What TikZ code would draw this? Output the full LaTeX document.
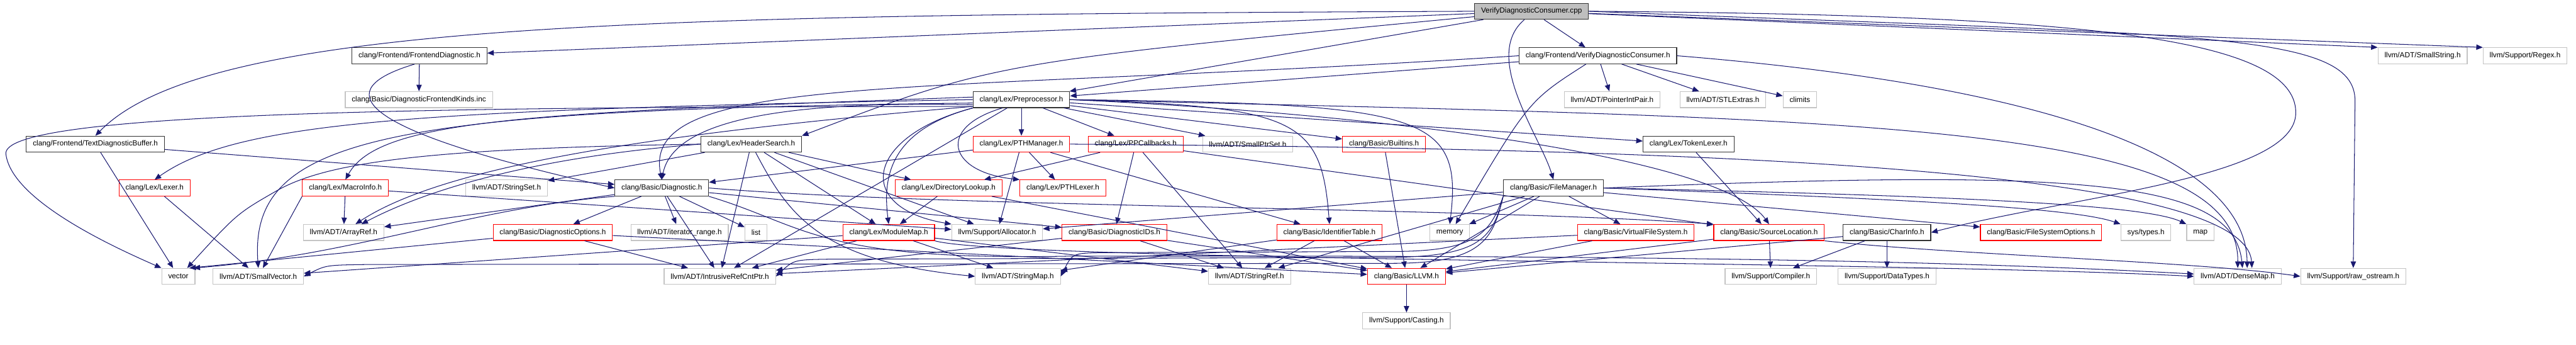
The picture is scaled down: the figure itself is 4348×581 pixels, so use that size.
\documentclass[tikz,border=0pt]{standalone}
\usepackage{fontspec}
\setmainfont{Liberation Sans}
\usetikzlibrary{arrows.meta}
\definecolor{edgeblue}{RGB}{25,25,112}
\definecolor{leafgray}{RGB}{196,196,196}
\definecolor{rootfill}{RGB}{191,191,191}
\definecolor{cutred}{RGB}{255,0,0}
\newcommand{\hdrfont}{\fontsize{12.5}{14}\selectfont}
\tikzset{
  >={Triangle[length=11pt,width=9pt]},
  incl/.style={draw=#1,fill=white,line width=1.2pt,minimum height=27pt,
    inner xsep=11pt,inner ysep=0pt,font=\hdrfont},
  incl/.default=black!80,
  trunc/.style={incl=cutred},
  ext/.style={incl=leafgray},
  rootfile/.style={incl=black!80,fill=rootfill},
  dep/.style={->,draw=edgeblue,line width=1.1pt},
}
\begin{document}
\begin{tikzpicture}[x=1pt,y=-1pt]
  \path[use as bounding box] (0,0) rectangle (4348,581);
  % row 0 and 1
  \node[rootfile] (root) at (2585,19) {VerifyDiagnosticConsumer.cpp};
  \node[incl] (fediag) at (708,94) {clang/Frontend/FrontendDiagnostic.h};
  \node[incl] (vdch) at (2697,94) {clang/Frontend/VerifyDiagnosticConsumer.h};
  \node[ext] (smallstr) at (4089,94) {llvm/ADT/SmallString.h};
  \node[ext] (regex) at (4262,94) {llvm/Support/Regex.h};
  % row 2
  \node[ext] (kinds) at (707,168) {clang/Basic/DiagnosticFrontendKinds.inc};
  \node[incl] (pp) at (1724,168) {clang/Lex/Preprocessor.h};
  \node[ext] (pip) at (2721,168) {llvm/ADT/PointerIntPair.h};
  \node[ext] (stlx) at (2908,168) {llvm/ADT/STLExtras.h};
  \node[ext] (climits) at (3038,168) {climits};
  % row 3
  \node[incl] (tdb) at (161,243) {clang/Frontend/TextDiagnosticBuffer.h};
  \node[incl] (hs) at (1268,243) {clang/Lex/HeaderSearch.h};
  \node[trunc] (pthm) at (1724,243) {clang/Lex/PTHManager.h};
  \node[trunc] (ppcb) at (1917,243) {clang/Lex/PPCallbacks.h};
  \node[ext] (sptrset) at (2106,243) {llvm/ADT/SmallPtrSet.h};
  \node[trunc] (builtins) at (2336,243) {clang/Basic/Builtins.h};
  \node[incl] (toklex) at (2850,243) {clang/Lex/TokenLexer.h};
  % row 4
  \node[trunc] (lexer) at (261,317) {clang/Lex/Lexer.h};
  \node[trunc] (macro) at (583,317) {clang/Lex/MacroInfo.h};
  \node[ext] (strset) at (855,317) {llvm/ADT/StringSet.h};
  \node[incl] (diag) at (1117,317) {clang/Basic/Diagnostic.h};
  \node[trunc] (dirlk) at (1601,317) {clang/Lex/DirectoryLookup.h};
  \node[trunc] (pthlex) at (1794,317) {clang/Lex/PTHLexer.h};
  \node[incl] (fm) at (2622,317) {clang/Basic/FileManager.h};
  % row 5
  \node[ext] (aref) at (580,392) {llvm/ADT/ArrayRef.h};
  \node[trunc] (dopts) at (933,392) {clang/Basic/DiagnosticOptions.h};
  \node[ext] (itrange) at (1147,392) {llvm/ADT/iterator\_range.h};
  \node[ext] (list) at (1276,392) {list};
  \node[trunc] (mmap) at (1500,392) {clang/Lex/ModuleMap.h};
  \node[ext] (alloc) at (1683,392) {llvm/Support/Allocator.h};
  \node[trunc] (dids) at (1881,392) {clang/Basic/DiagnosticIDs.h};
  \node[trunc] (idtab) at (2244,392) {clang/Basic/IdentifierTable.h};
  \node[ext] (memory) at (2447,392) {memory};
  \node[trunc] (vfs) at (2761,392) {clang/Basic/VirtualFileSystem.h};
  \node[trunc] (srcloc) at (2986,392) {clang/Basic/SourceLocation.h};
  \node[incl] (charinfo) at (3185,392) {clang/Basic/CharInfo.h};
  \node[trunc] (fsopts) at (3445,392) {clang/Basic/FileSystemOptions.h};
  \node[ext] (systypes) at (3622,392) {sys/types.h};
  \node[ext] (map) at (3714,392) {map};
  % row 6 and 7
  \node[ext] (vector) at (301,466) {vector};
  \node[ext] (svec) at (436,466) {llvm/ADT/SmallVector.h};
  \node[ext] (irc) at (1215,466) {llvm/ADT/IntrusiveRefCntPtr.h};
  \node[ext] (smap) at (1718,466) {llvm/ADT/StringMap.h};
  \node[ext] (sref) at (2109,466) {llvm/ADT/StringRef.h};
  \node[trunc] (llvmh) at (2374,466) {clang/Basic/LLVM.h};
  \node[ext] (compiler) at (2989,466) {llvm/Support/Compiler.h};
  \node[ext] (dtypes) at (3185,466) {llvm/Support/DataTypes.h};
  \node[ext] (dmap) at (3777,466) {llvm/ADT/DenseMap.h};
  \node[ext] (rawos) at (3972,466) {llvm/Support/raw\_ostream.h};
  \node[ext] (casting) at (2374,541) {llvm/Support/Casting.h};

  % straight includes
  \foreach \a/\b in {root/fediag,root/vdch,root/pp,fediag/kinds,
      vdch/pp,vdch/pip,vdch/stlx,vdch/climits,tdb/diag,tdb/vector,
      pp/pthm,pp/ppcb,pp/sptrset,pp/builtins,pp/toklex,pp/irc,
      hs/dirlk,hs/mmap,hs/irc,hs/strset,hs/alloc,
      pthm/pthlex,pthm/diag,pthm/idtab,pthm/alloc,
      ppcb/dirlk,ppcb/dids,ppcb/srcloc,ppcb/sref,
      builtins/llvmh,toklex/srcloc,lexer/svec,macro/aref,macro/alloc,
      diag/dids,diag/dopts,diag/aref,diag/irc,diag/itrange,diag/list,
      dirlk/mmap,dirlk/llvmh,fm/fsopts,fm/llvmh,fm/vfs,fm/sref,fm/alloc,fm/memory,
      dopts/llvmh,dopts/irc,mmap/irc,mmap/smap,mmap/sref,mmap/svec,
      dids/llvmh,dids/irc,dids/sref,idtab/llvmh,idtab/smap,idtab/sref,
      vfs/llvmh,vfs/irc,srcloc/llvmh,srcloc/compiler,
      charinfo/llvmh,charinfo/compiler,charinfo/dtypes,llvmh/casting}
    \draw[dep] (\a) -- (\b);

  % routed includes
  \draw[dep] (root) -- (smallstr.north west);
  \draw[dep] (root) -- (regex.north west);
  \draw[dep] (root.west) .. controls (1100,25) and (350,35) .. (tdb.north);
  \draw[dep] (root) .. controls (1680,105) .. (hs.north east);
  \draw[dep] ([xshift=-12pt]root.south) .. controls (2500,95) and (2600,230) .. (fm.north);
  \draw[dep] (root.east) .. controls (3500,25) and (3875,60) .. (3875,190)
    .. controls (3875,300) and (3500,330) .. (charinfo.east);
  \draw[dep] (root.east) .. controls (3700,60) and (3975,50) .. (3975,170) -- (rawos.north);
  \draw[dep] (fediag.240) .. controls (560,150) and (580,215) .. (diag.west);
  \draw[dep] (vdch.west) .. controls (1550,160) and (1080,120) .. (diag.north);
  \draw[dep] ([xshift=-20pt]vdch.south) .. controls (2580,170) .. ([xshift=10pt]memory.north);
  \draw[dep] (vdch.east) .. controls (3400,140) and (3790,250) .. ([xshift=16pt]dmap.north);
  \draw[dep] (pp.188) .. controls (700,180) and (0,190) .. (10,260)
    .. controls (20,340) and (200,420) .. (vector.north west);
  \draw[dep] (pp.184) .. controls (650,185) and (420,230) .. (svec.north);
  \draw[dep] (pp.180) .. controls (700,185) and (400,205) .. (lexer.north);
  \draw[dep] (pp.177) .. controls (900,190) and (640,200) .. (macro.north);
  \draw[dep] (pp.186) .. controls (1400,172) and (1140,185) .. (diag.north);
  \draw[dep] (pp.188) .. controls (1100,225) and (750,280) .. ([xshift=20pt]aref.north);
  \draw[dep] ([xshift=50pt]pp.south west) .. controls (1580,215) and (1600,290) .. (pthlex.north west);
  \draw[dep] (pp.south west) .. controls (1500,220) and (1490,300) .. (mmap.north);
  \draw[dep] (pp.south west) .. controls (1460,230) and (1440,350) .. (alloc.north west);
  \draw[dep] (pp.east) .. controls (2400,175) and (2470,190) .. (memory.north);
  \draw[dep] (pp.east) .. controls (2190,180) and (2230,200) .. (idtab.north);
  \draw[dep] (pp.east) .. controls (2300,190) and (2900,260) .. (srcloc.north);
  \draw[dep] (pp.east) .. controls (3100,200) and (3780,200) .. (dmap.north);
  \draw[dep] (hs.west) .. controls (900,265) and (720,320) .. ([xshift=30pt]aref.north);
  \draw[dep] (hs.west) .. controls (750,250) and (560,270) .. (470,320)
    .. controls (400,360) .. ([xshift=15pt]vector.north);
  \draw[dep] (hs) .. controls (1330,360) and (1380,440) .. (smap.west);
  \draw[dep] (pthm.east) .. controls (2700,250) and (3790,270) .. ([xshift=24pt]dmap.north);
  \draw[dep] (macro.south west) -- (svec);
  \draw[dep] (diag.east) .. controls (1600,350) and (2500,350) .. (srcloc.north west);
  \draw[dep] (diag.south west) .. controls (800,350) and (600,430) .. ([xshift=-3pt]vector.north east);
  \draw[dep] (diag.south east) .. controls (1360,380) and (1380,440) .. (1800,432)
    .. controls (2800,430) and (3300,440) .. ([yshift=4pt]dmap.west);
  \draw[dep] (dopts) -- ([xshift=-10pt]vector.north east);
  \draw[dep] (mmap.south east) .. controls (1700,440) and (3200,440) .. (dmap.west);
  \draw[dep] (fm.east) .. controls (3500,285) and (3770,300) .. ([xshift=8pt]dmap.north);
  \draw[dep] (fm.east) .. controls (3200,335) and (3500,350) .. (systypes.north west);
  \draw[dep] (fm.east) .. controls (3300,330) and (3620,345) .. (map.north west);
  \draw[dep] (fm.south west) .. controls (2515,395) and (2490,424) .. (2350,424)
    -- (1860,426) .. controls (1810,427) .. (smap.east);
  \draw[dep] (fm.south west) .. controls (2520,400) and (2500,432) .. (2350,434)
    -- (1400,437) .. controls (1340,438) .. (irc.east);
  \draw[dep] (fm.south west) .. controls (2520,405) and (2500,444) .. (2350,444)
    -- (620,446) .. controls (550,447) .. (svec.east);
  \draw[dep] (srcloc.south east) .. controls (3300,430) and (3700,440) .. (rawos.west);
\end{tikzpicture}
\end{document}
